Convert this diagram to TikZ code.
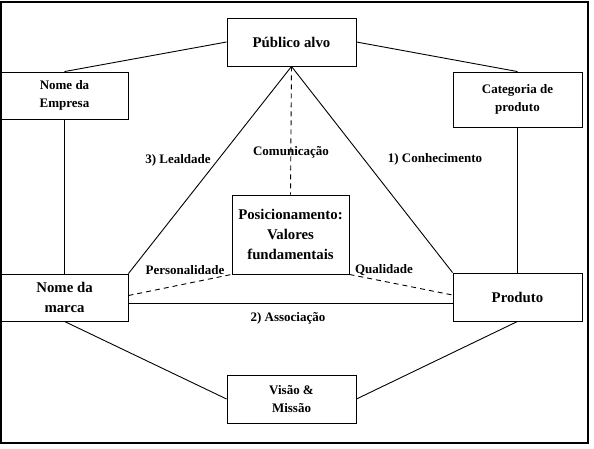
\documentclass[tikz,border=0pt]{standalone}
\usepackage{fontspec}
\setmainfont{Liberation Serif}
\begin{document}
\begin{tikzpicture}[x=1pt,y=-1pt,
  box/.style={draw,line width=0.9pt,rectangle,inner sep=0pt,align=center,font=\bfseries\fontsize{14.8}{20}\selectfont},
  sbox/.style={box,font=\bfseries\fontsize{13}{18}\selectfont},
  conn/.style={line width=0.9pt},
  dconn/.style={line width=0.9pt,dash pattern=on 5pt off 4pt},
  lbl/.style={inner sep=0pt,font=\bfseries\fontsize{13}{16}\selectfont}]
\useasboundingbox (0,0) rectangle (594,448);
\draw[line width=1.5pt] (1,2) rectangle (588,443);
\node[box,minimum width=129pt,minimum height=48pt] (pub) at (291.5,42) {Público alvo};
\node[sbox,minimum width=127pt,minimum height=47pt] (emp) at (64.5,95.5) {Nome da\\Empresa};
\node[sbox,minimum width=129pt,minimum height=55pt] (cat) at (517.5,99.5) {Categoria de\\produto};
\node[box,minimum width=127pt,minimum height=47pt] (mar) at (64.5,297.5) {Nome da\\marca};
\node[box,minimum width=129pt,minimum height=48pt] (pro) at (517.5,297) {Produto};
\node[box,minimum width=117pt,minimum height=79pt] (pos) at (290.5,234.5) {Posicionamento:\\Valores\\fundamentais};
\node[sbox,minimum width=129pt,minimum height=48pt] (vis) at (291.5,399) {Visão \&\\Missão};
\draw[conn] (pub.west) -- (emp.north);
\draw[conn] (pub.east) -- (cat.north);
\draw[conn] (emp.south) -- (mar.north);
\draw[conn] (cat.south) -- (pro.north);
\draw[conn] (pub.south) -- (mar.north east);
\draw[conn] (pub.south) -- (pro.north west);
\draw[dconn] (pub.south) -- (pos.north);
\draw[dconn] ([yshift=2pt]mar.east) -- (pos.south west);
\draw[dconn] (pos.south east) -- ([yshift=2pt]pro.west);
\draw[conn] ([yshift=-5.5pt]mar.east) -- ([yshift=-6pt]pro.west);
\draw[conn] (mar.south) -- (vis.west);
\draw[conn] (vis.east) -- (pro.south);
\node[lbl] (l3) at (178,160) {3) Lealdade};
\node[lbl] (lc) at (291,152) {Comunicação};
\node[lbl] (l1) at (435,159) {1) Conhecimento};
\node[lbl] (lp) at (185,270) {Personalidade};
\node[lbl] (lq) at (384,270) {Qualidade};
\node[lbl] (l2) at (288,318) {2) Associação};
\end{tikzpicture}
\end{document}
